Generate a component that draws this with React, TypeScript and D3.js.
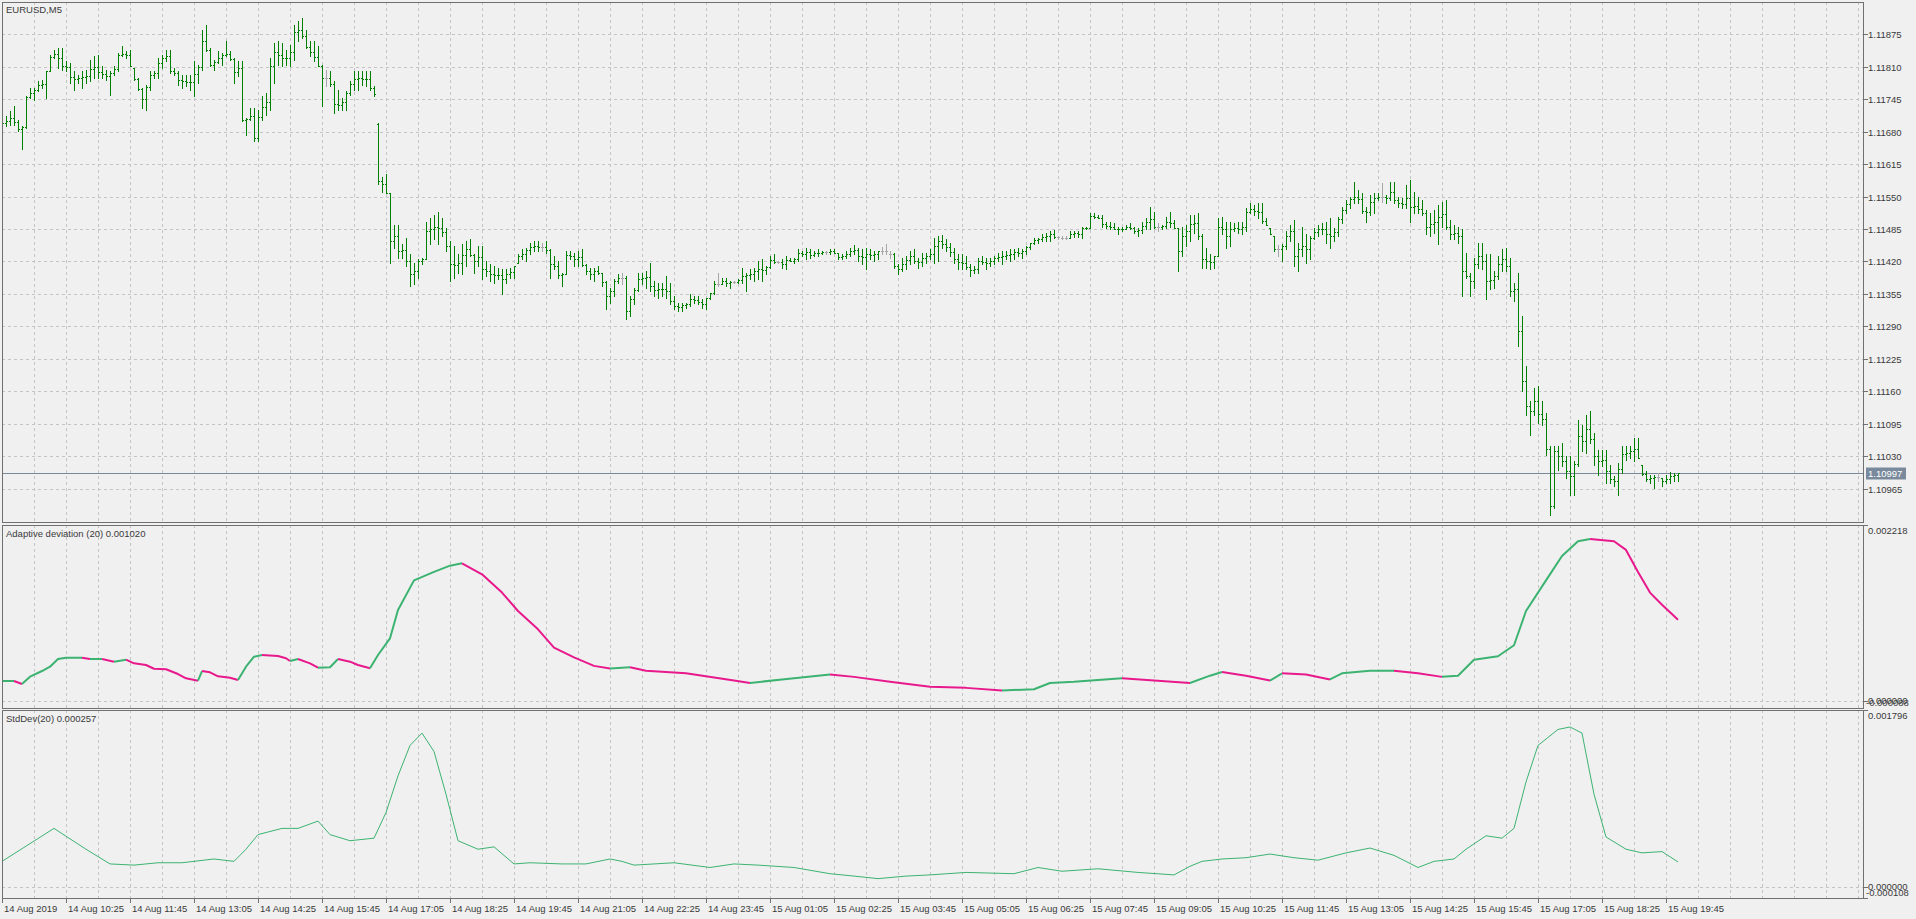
import React from "react";
import * as d3 from "d3";

// ---------- DATA (EURUSD M5, bar 0 = 14 Aug 2019 09:05, prices in points: 11705 -> 1.11705) ----------
const SYMBOL = "EURUSD,M5";
const AD_TITLE = "Adaptive deviation (20) 0.001020";
const SD_TITLE = "StdDev(20) 0.000257";
const CURRENT_PRICE = 1.10997;

const timeLabels = ["14 Aug 2019","14 Aug 10:25","14 Aug 11:45","14 Aug 13:05","14 Aug 14:25","14 Aug 15:45","14 Aug 17:05","14 Aug 18:25","14 Aug 19:45","14 Aug 21:05","14 Aug 22:25","14 Aug 23:45","15 Aug 01:05","15 Aug 02:25","15 Aug 03:45","15 Aug 05:05","15 Aug 06:25","15 Aug 07:45","15 Aug 09:05","15 Aug 10:25","15 Aug 11:45","15 Aug 13:05","15 Aug 14:25","15 Aug 15:45","15 Aug 17:05","15 Aug 18:25","15 Aug 19:45"];
const timeLabelBars = [0,16,32,48,64,80,96,112,128,144,160,176,192,208,224,240,256,272,288,304,320,336,352,368,384,400,416];

const priceTicks = [1.11875,1.11810,1.11745,1.11680,1.11615,1.11550,1.11485,1.11420,1.11355,1.11290,1.11225,1.11160,1.11095,1.11030,1.10965];

const openPts = [
11695,11698,11702,11708,11699,11686,11689,11749,11757,11764,
11774,11775,11801,11830,11835,11827,11812,11809,11789,11785,
11787,11789,11792,11805,11809,11799,11795,11792,11797,11806,
11834,11836,11834,11807,11786,11766,11745,11769,11794,11797,
11817,11827,11832,11801,11797,11784,11782,11780,11779,11795,
11809,11862,11844,11814,11820,11827,11834,11836,11825,11800,
11808,11704,11705,11712,11668,11710,11730,11740,11812,11840,
11834,11827,11828,11840,11880,11884,11872,11850,11840,11830,
11812,11787,11787,11776,11735,11734,11740,11758,11775,11785,
11787,11786,11785,11768,11695,11582,11575,11558,11460,11470,
11440,11442,11420,11395,11400,11420,11425,11480,11485,11490,
11488,11478,11450,11415,11413,11416,11432,11445,11432,11420,
11428,11405,11400,11395,11393,11392,11385,11395,11398,11417,
11430,11435,11442,11448,11450,11448,11448,11442,11415,11410,
11392,11395,11432,11430,11425,11428,11412,11400,11395,11400,
11396,11378,11350,11360,11380,11386,11386,11320,11345,11363,
11385,11387,11388,11370,11362,11364,11365,11360,11340,11330,
11328,11332,11334,11345,11342,11338,11335,11346,11356,11375,
11375,11380,11376,11378,11378,11382,11390,11392,11395,11400,
11405,11402,11408,11422,11418,11418,11415,11422,11421,11424,
11436,11435,11438,11433,11436,11437,11438,11438,11441,11437,
11428,11430,11435,11440,11442,11430,11428,11434,11432,11434,
11440,11440,11434,11434,11410,11405,11415,11422,11430,11420,
11418,11427,11430,11434,11450,11460,11455,11448,11438,11425,
11418,11416,11408,11402,11404,11420,11418,11416,11420,11426,
11428,11430,11432,11434,11438,11437,11440,11448,11456,11462,
11464,11468,11470,11474,11468,11467,11467,11467,11474,11476,
11475,11487,11488,11512,11510,11508,11495,11492,11490,11486,
11484,11486,11490,11487,11480,11482,11492,11500,11505,11490,
11490,11492,11500,11498,11487,11440,11470,11480,11495,11497,
11470,11425,11420,11418,11430,11490,11485,11470,11485,11488,
11486,11490,11520,11525,11522,11520,11502,11487,11470,11445,
11445,11450,11470,11480,11430,11445,11450,11445,11466,11478,
11484,11486,11475,11470,11478,11505,11524,11535,11545,11550,
11545,11522,11520,11540,11548,11550,11550,11548,11560,11544,
11538,11535,11548,11530,11532,11525,11518,11490,11495,11500,
11510,11515,11490,11475,11477,11470,11400,11390,11380,11415,
11430,11420,11380,11382,11390,11415,11425,11410,11360,11365,
11280,11180,11130,11120,11140,11115,11105,11045,10930,11040,
11030,11020,11000,10990,11015,11070,11060,11085,11065,11030,
11020,11022,11000,10985,10980,11005,11035,11037,11040,11045,
11013,10995,10985,10987,10988,10987,10980,10985,10990,10992];

const highPts = [
11705,11711,11721,11731,11704,11691,11751,11767,11767,11781,
11784,11801,11834,11844,11847,11847,11821,11817,11801,11794,
11801,11804,11824,11831,11834,11811,11804,11801,11811,11837,
11851,11841,11844,11807,11787,11767,11774,11801,11801,11827,
11834,11844,11844,11807,11801,11794,11794,11794,11821,11814,
11884,11894,11847,11824,11841,11837,11861,11841,11827,11821,
11821,11707,11727,11727,11724,11751,11757,11827,11857,11861,
11857,11844,11854,11894,11901,11907,11884,11861,11861,11851,
11814,11804,11801,11781,11764,11747,11761,11781,11801,11801,
11801,11801,11801,11771,11697,11590,11596,11558,11494,11494,
11454,11467,11434,11417,11424,11427,11500,11507,11514,11520,
11507,11487,11460,11450,11434,11454,11460,11464,11434,11450,
11450,11420,11414,11410,11407,11404,11404,11407,11410,11434,
11444,11447,11457,11460,11460,11457,11460,11444,11430,11420,
11397,11440,11440,11437,11440,11444,11414,11407,11407,11410,
11397,11380,11367,11384,11394,11397,11390,11350,11367,11397,
11397,11400,11417,11380,11377,11377,11390,11377,11350,11337,
11337,11337,11354,11350,11350,11344,11347,11357,11380,11397,
11387,11387,11380,11380,11384,11407,11397,11404,11407,11420,
11424,11410,11430,11434,11420,11424,11430,11427,11427,11444,
11440,11447,11444,11440,11444,11440,11440,11445,11445,11437,
11434,11440,11447,11452,11447,11444,11447,11444,11440,11440,
11449,11454,11440,11437,11414,11427,11430,11440,11444,11427,
11437,11437,11444,11467,11470,11472,11464,11457,11447,11434,
11434,11430,11414,11410,11427,11430,11427,11427,11430,11437,
11440,11440,11444,11444,11447,11444,11450,11457,11467,11467,
11474,11477,11480,11482,11470,11470,11470,11480,11480,11480,
11490,11490,11517,11517,11514,11514,11500,11500,11497,11490,
11490,11494,11497,11490,11487,11500,11507,11530,11520,11497,
11494,11510,11520,11504,11487,11490,11494,11514,11514,11517,
11474,11447,11434,11430,11507,11510,11500,11500,11497,11500,
11500,11527,11537,11534,11537,11537,11507,11487,11470,11452,
11454,11480,11494,11504,11457,11490,11474,11470,11487,11494,
11497,11500,11507,11487,11510,11530,11544,11550,11580,11564,
11557,11530,11554,11557,11557,11577,11554,11580,11580,11550,
11547,11574,11584,11560,11550,11544,11524,11517,11524,11534,
11540,11544,11504,11494,11490,11484,11437,11397,11427,11457,
11457,11434,11434,11400,11430,11444,11447,11427,11377,11397,
11310,11210,11140,11167,11170,11140,11117,11050,11050,11050,
11057,11030,11030,11020,11103,11093,11113,11120,11077,11043,
11043,11043,11013,10990,11017,11050,11050,11050,11067,11067,
11013,11000,10993,10993,10997,10987,10993,10998,10997,10997];

const lowPts = [
11688,11691,11694,11694,11681,11645,11687,11747,11744,11761,
11767,11747,11801,11827,11807,11804,11801,11777,11764,11777,
11767,11777,11781,11787,11787,11787,11784,11754,11794,11801,
11831,11827,11811,11784,11764,11727,11724,11764,11787,11787,
11807,11821,11797,11794,11774,11767,11771,11764,11751,11777,
11804,11841,11811,11804,11817,11814,11831,11824,11777,11791,
11701,11674,11704,11661,11661,11704,11714,11724,11777,11814,
11811,11814,11811,11824,11861,11867,11847,11831,11821,11811,
11731,11771,11771,11717,11724,11724,11724,11754,11764,11764,
11774,11771,11764,11751,11575,11560,11557,11417,11447,11427,
11427,11410,11370,11374,11387,11414,11424,11454,11464,11454,
11470,11440,11380,11387,11397,11394,11410,11430,11397,11410,
11384,11390,11380,11377,11384,11354,11377,11387,11387,11417,
11424,11420,11434,11440,11440,11440,11437,11387,11404,11387,
11370,11394,11424,11410,11410,11410,11394,11384,11380,11394,
11370,11324,11337,11350,11377,11374,11305,11310,11334,11360,
11374,11367,11360,11350,11347,11350,11347,11334,11324,11320,
11320,11327,11330,11337,11334,11327,11324,11344,11354,11370,
11374,11370,11367,11377,11377,11377,11360,11384,11380,11384,
11380,11394,11407,11417,11416,11407,11404,11420,11417,11420,
11430,11424,11427,11430,11430,11434,11435,11434,11437,11424,
11424,11427,11430,11434,11420,11414,11404,11424,11420,11424,
11434,11434,11427,11407,11394,11400,11404,11414,11417,11407,
11410,11417,11424,11417,11420,11447,11440,11430,11417,11404,
11404,11404,11390,11397,11397,11414,11404,11410,11414,11420,
11414,11424,11420,11424,11430,11427,11434,11444,11454,11457,
11460,11460,11460,11467,11465,11464,11464,11467,11469,11469,
11467,11484,11487,11507,11507,11490,11487,11484,11484,11474,
11480,11484,11484,11477,11470,11477,11484,11484,11487,11480,
11484,11487,11490,11487,11400,11430,11450,11460,11477,11464,
11407,11407,11404,11407,11430,11474,11447,11450,11480,11477,
11474,11480,11517,11514,11507,11497,11494,11474,11440,11430,
11420,11444,11460,11410,11400,11430,11417,11424,11464,11470,
11474,11457,11447,11460,11470,11497,11517,11527,11537,11537,
11517,11500,11514,11517,11544,11540,11537,11544,11537,11530,
11527,11527,11500,11517,11517,11514,11474,11470,11477,11454,
11490,11484,11464,11464,11457,11350,11387,11350,11367,11407,
11404,11344,11364,11367,11384,11400,11400,11350,11340,11250,
11160,11113,11073,11113,11097,11093,11033,10913,10927,11003,
11010,10987,10953,10953,11010,11040,11037,11057,11013,10993,
11010,10977,10977,10970,10953,10997,11023,11027,11020,11027,
10993,10980,10977,10967,10980,10970,10977,10977,10980,10980];

const closePts = [
11698,11702,11708,11699,11686,11689,11749,11757,11764,11774,
11775,11801,11830,11835,11827,11812,11809,11789,11785,11787,
11789,11792,11805,11809,11799,11795,11792,11797,11806,11834,
11836,11834,11811,11786,11766,11745,11769,11794,11797,11817,
11827,11832,11801,11797,11784,11782,11780,11779,11795,11809,
11862,11844,11814,11820,11827,11834,11836,11825,11800,11808,
11704,11705,11712,11668,11710,11730,11740,11812,11840,11834,
11827,11828,11840,11880,11884,11872,11850,11840,11830,11812,
11787,11787,11776,11735,11734,11740,11758,11775,11785,11787,
11786,11785,11768,11755,11582,11575,11558,11460,11470,11440,
11442,11420,11395,11400,11420,11425,11480,11485,11490,11488,
11478,11450,11415,11413,11416,11432,11445,11432,11420,11428,
11405,11400,11395,11393,11392,11385,11395,11398,11410,11430,
11435,11442,11448,11450,11448,11448,11442,11415,11410,11392,
11395,11432,11430,11425,11428,11412,11400,11395,11400,11396,
11378,11350,11360,11380,11386,11386,11320,11345,11363,11385,
11387,11388,11370,11362,11364,11365,11360,11340,11330,11328,
11332,11334,11345,11342,11338,11335,11346,11356,11375,11375,
11380,11376,11378,11378,11382,11390,11392,11395,11400,11405,
11402,11408,11422,11418,11418,11415,11422,11421,11424,11436,
11435,11438,11433,11436,11437,11438,11438,11441,11437,11428,
11430,11435,11440,11442,11430,11428,11434,11432,11434,11440,
11440,11440,11434,11410,11405,11415,11422,11430,11420,11418,
11427,11430,11434,11450,11460,11455,11448,11438,11425,11418,
11416,11408,11402,11404,11420,11418,11416,11420,11426,11428,
11430,11432,11434,11438,11437,11440,11448,11456,11462,11464,
11468,11470,11474,11468,11468,11467,11467,11474,11476,11475,
11487,11488,11512,11510,11508,11495,11492,11490,11486,11484,
11486,11490,11487,11480,11482,11492,11500,11505,11490,11490,
11492,11500,11498,11487,11440,11470,11480,11495,11497,11470,
11425,11420,11418,11430,11490,11485,11470,11485,11488,11486,
11490,11520,11525,11522,11520,11502,11494,11474,11445,11445,
11450,11470,11480,11430,11445,11450,11445,11466,11478,11484,
11486,11475,11470,11478,11505,11524,11535,11545,11550,11545,
11522,11520,11540,11548,11550,11550,11548,11560,11544,11538,
11535,11548,11530,11532,11525,11518,11490,11495,11500,11510,
11515,11490,11475,11477,11470,11400,11390,11380,11415,11430,
11420,11380,11382,11390,11415,11425,11410,11360,11365,11280,
11180,11130,11120,11140,11115,11105,11045,10930,11040,11030,
11020,11000,10990,11015,11070,11060,11085,11065,11030,11020,
11022,11000,10985,10980,11005,11035,11037,11040,11045,11027,
10995,10985,10987,10988,10988,10980,10985,10990,10992,10997];

// Adaptive deviation (20): bar index + value (x 1e-6)
const adBars = [0,3,5,7,10,12,14,16,20,22,25,28,31,33,36,38,41,44,46,49,50,52,54,57,59,61,63,65,69,71,72,74,77,79,82,84,87,89,92,94,97,99,103,108,112,115,120,125,129,134,138,143,148,152,157,161,171,183,187,195,207,213,222,232,241,250,258,262,268,280,288,297,302,305,311,317,320,326,332,335,342,348,354,360,364,368,374,378,381,386,390,394,397,403,406,409,412,415,419];
const adValues = [247,247,209,301,373,428,525,541,541,525,525,491,516,470,449,402,395,335,281,251,373,357,306,288,259,428,554,575,563,534,499,525,470,415,420,525,491,449,407,575,786,1144,1518,1625,1704,1734,1595,1364,1131,900,669,545,438,406,421,376,344,252,222,267,329,299,237,175,160,128,143,222,237,282,252,222,314,361,314,252,344,329,267,344,376,376,344,299,314,515,560,699,1131,1518,1826,2012,2042,2012,1903,1625,1364,1210,1020];

// StdDev(20): bar index + value (x 1e-6)
const sdBars = [0,13,21,27,33,39,45,53,58,61,64,70,74,79,82,87,93,96,99,102,105,108,111,114,119,123,128,132,140,146,152,155,158,168,177,183,189,198,207,213,219,226,232,241,253,259,265,274,284,293,297,300,305,311,317,323,329,336,342,348,354,358,363,366,371,375,378,381,384,389,392,395,398,401,406,410,415,419];
const sdValues = [263,597,386,237,225,249,249,287,263,386,534,597,597,671,534,472,498,757,1129,1437,1562,1376,943,472,386,410,237,249,237,237,287,263,225,249,201,237,225,201,138,114,88,114,126,151,138,201,163,188,151,126,213,263,287,300,337,300,275,349,398,324,201,263,287,386,522,498,597,1067,1437,1599,1624,1562,943,510,386,349,362,257];

// ---------- STYLE ----------
const FONT = "'Liberation Sans', Arial, sans-serif";
const FS = 9.5;
const BG = "#f0f0f0";
const GRID = "#c4c4c4";
const FRAME = "#707070";
const TEXT = "#3a3a3a";
const BAR = "#008000";
const DOJI = "#a8a8a8";
const UP = "#3cb371";
const DOWN = "#e8198c";
const SDC = "#3cb371";
const PRICE_LINE = "#7a8a9c";

export default function App() {
  const W = 1916, H = 919;
  const L = 2, R = 1863;
  const P1 = { top: 2, bottom: 522 };
  const P2 = { top: 525, bottom: 707.5 };
  const P3 = { top: 710, bottom: 898 };

  const n = Math.min(openPts.length, highPts.length, lowPts.length, closePts.length);
  const toPrice = (p: number) => 1 + p / 100000;

  const x = d3.scaleLinear().domain([0, 419]).range([2, 1678]);
  const yM = d3.scaleLinear().domain([1.108981, 1.119397]).range([P1.bottom, P1.top]);
  const y2 = d3.scaleLinear().domain([-0.000088, 0.002218]).range([P2.bottom, P2.top]);
  const y3 = d3.scaleLinear().domain([-0.000108, 0.001796]).range([P3.bottom, P3.top]);

  const vGrid: number[] = [];
  for (let b = 8; x(b) < R - 1; b += 8) vGrid.push(Math.round(x(b)) + 0.5);

  const bars = [];
  for (let i = 0; i < n; i++) {
    const xi = Math.round(x(i));
    const yh = Math.round(yM(toPrice(highPts[i])));
    const yl = Math.round(yM(toPrice(lowPts[i])));
    const yo = Math.round(yM(toPrice(openPts[i])));
    const yc = Math.round(yM(toPrice(closePts[i])));
    const col = openPts[i] === closePts[i] ? DOJI : BAR;
    bars.push(
      <g key={i} fill={col}>
        <rect x={xi} y={yh} width={1} height={Math.max(1, yl - yh + 1)} />
        <rect x={xi - 1} y={yo} width={1} height={1} />
        <rect x={xi + 1} y={yc} width={1} height={1} />
      </g>
    );
  }

  const adPts = adBars.map((b, i) => [x(b), y2(adValues[i] / 1e6)] as [number, number]);
  const adSegs: { pts: [number, number][]; up: boolean }[] = [];
  for (let i = 1; i < adPts.length; i++) {
    const up = adValues[i] >= adValues[i - 1];
    const last = adSegs[adSegs.length - 1];
    if (last && last.up === up) last.pts.push(adPts[i]);
    else adSegs.push({ pts: [adPts[i - 1], adPts[i]], up });
  }
  const line = d3.line<[number, number]>();
  const sdPath = line(sdBars.map((b, i) => [x(b), y3(sdValues[i] / 1e6)] as [number, number])) || "";

  const txt = (s: string, tx: number, ty: number, extra: any = {}) => (
    <text x={tx} y={ty} fontFamily={FONT} fontSize={FS} fill={TEXT} dominantBaseline="central" {...extra}>{s}</text>
  );

  const yCur = Math.round(yM(CURRENT_PRICE)) + 0.5;

  return (
    <svg width={W} height={H} style={{ position: "absolute", left: 0, top: 0, display: "block" }} xmlns="http://www.w3.org/2000/svg">
      <defs>
        <clipPath id="c1"><rect x={L} y={P1.top} width={R - L} height={P1.bottom - P1.top} /></clipPath>
        <clipPath id="c2"><rect x={L} y={P2.top} width={R - L} height={P2.bottom - P2.top} /></clipPath>
        <clipPath id="c3"><rect x={L} y={P3.top} width={R - L} height={P3.bottom - P3.top} /></clipPath>
      </defs>
      <rect x={0} y={0} width={W} height={H} fill={BG} />

      <g stroke={GRID} strokeWidth={1} strokeDasharray="3,3" shapeRendering="crispEdges">
        {vGrid.map((gx, i) => (
          <g key={i}>
            <line x1={gx} x2={gx} y1={P1.top} y2={P1.bottom} />
            <line x1={gx} x2={gx} y1={P2.top} y2={P2.bottom} />
            <line x1={gx} x2={gx} y1={P3.top} y2={P3.bottom} />
          </g>
        ))}
        {priceTicks.map((p, i) => {
          const gy = Math.round(yM(p)) + 0.5;
          return <line key={i} x1={L} x2={R} y1={gy} y2={gy} />;
        })}
        <line x1={L} x2={R} y1={Math.round(y2(0)) + 0.5} y2={Math.round(y2(0)) + 0.5} />
        <line x1={L} x2={R} y1={Math.round(y3(0)) + 0.5} y2={Math.round(y3(0)) + 0.5} />
      </g>

      <line x1={L} x2={R} y1={yCur} y2={yCur} stroke={PRICE_LINE} strokeWidth={1} shapeRendering="crispEdges" />

      <g clipPath="url(#c1)" shapeRendering="crispEdges">{bars}</g>

      <g clipPath="url(#c2)" fill="none" strokeWidth={2} strokeLinejoin="round">
        {adSegs.map((s, i) => (
          <path key={i} d={line(s.pts) || ""} stroke={s.up ? UP : DOWN} />
        ))}
      </g>

      <g clipPath="url(#c3)">
        <path d={sdPath} fill="none" stroke={SDC} strokeWidth={1} />
      </g>

      <g fill="none" stroke={FRAME} strokeWidth={1} shapeRendering="crispEdges">
        <rect x={L + 0.5} y={P1.top + 0.5} width={R - L} height={P1.bottom - P1.top} />
        <rect x={L + 0.5} y={P2.top + 0.5} width={R - L} height={P2.bottom - P2.top} />
        <rect x={L + 0.5} y={P3.top + 0.5} width={R - L} height={P3.bottom - P3.top} />
      </g>

      {txt(SYMBOL, 6, 9.5)}
      {txt(AD_TITLE, 6, 533)}
      {txt(SD_TITLE, 6, 718)}

      <g stroke={FRAME} shapeRendering="crispEdges">
        {priceTicks.map((p, i) => {
          const gy = Math.round(yM(p)) + 0.5;
          return <line key={i} x1={R + 1} x2={R + 5} y1={gy} y2={gy} />;
        })}
        <line x1={R + 1} x2={R + 5} y1={P2.top + 0.5} y2={P2.top + 0.5} />
        <line x1={R + 1} x2={R + 5} y1={Math.round(y2(0)) + 0.5} y2={Math.round(y2(0)) + 0.5} />
        <line x1={R + 1} x2={R + 5} y1={P3.top + 0.5} y2={P3.top + 0.5} />
        <line x1={R + 1} x2={R + 5} y1={Math.round(y3(0)) + 0.5} y2={Math.round(y3(0)) + 0.5} />
        <line x1={R + 1} x2={R + 5} y1={P3.bottom + 0.5} y2={P3.bottom + 0.5} />
        {timeLabelBars.map((b, i) => {
          const tx = Math.round(x(b)) + 0.5;
          return <line key={i} x1={tx} x2={tx} y1={P3.bottom + 1} y2={P3.bottom + 5} />;
        })}
      </g>
      {priceTicks.map((p, i) => (
        <g key={i}>{txt(p.toFixed(5), 1868, Math.round(yM(p)) + 0.5)}</g>
      ))}
      <rect x={1866} y={yCur - 6} width={40} height={12} fill={PRICE_LINE} />
      {txt(CURRENT_PRICE.toFixed(5), 1868, yCur, { fill: "#ffffff" })}

      {txt("0.002218", 1868, 530)}
      {txt("0.000000", 1868, 700)}
      {txt("-0.000088", 1866, 702)}
      {txt("0.001796", 1868, 715)}
      {txt("0.000000", 1868, 886)}
      {txt("-0.000108", 1866, 892)}

      {timeLabelBars.map((b, i) => (
        <g key={i}>{txt(timeLabels[i], Math.round(x(b)) + 2, 908)}</g>
      ))}
    </svg>
  );
}
